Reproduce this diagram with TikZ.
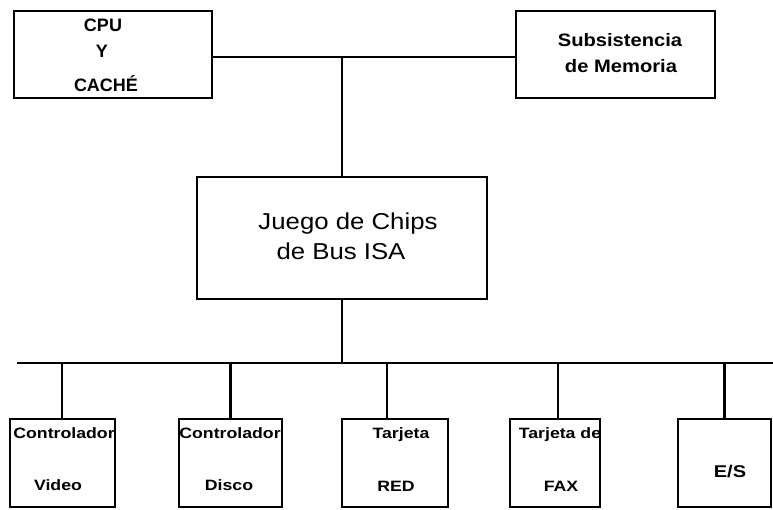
\documentclass[tikz,border=0pt]{standalone}
\usepackage{fontspec}
\setmainfont{Liberation Sans}
\begin{document}
\begin{tikzpicture}[x=1pt,y=-1pt,
  box/.style={draw, line width=2.2pt, inner sep=0pt},
  ln/.style={line width=2.2pt},
  lbl/.style={inner sep=0pt, anchor=base, font=\bfseries\fontsize{18}{20}\selectfont},
  wide/.style={xscale=1.12, transform shape},
  sml/.style={inner sep=0pt, anchor=base, font=\bfseries\fontsize{15}{17}\selectfont, xscale=1.18, transform shape},
  big/.style={inner sep=0pt, anchor=base, font=\fontsize{23}{26}\selectfont, xscale=1.12, transform shape}]
\useasboundingbox (0,0) rectangle (773,510);
% boxes
\node[box, minimum width=198pt, minimum height=87pt] (cpu) at (113,54.5) {};
\node[box, minimum width=199pt, minimum height=87pt] (mem) at (615.5,54.5) {};
\node[box, minimum width=290pt, minimum height=122pt] (chip) at (342,238) {};
\node[box, minimum width=105pt, minimum height=88pt] (video) at (62.5,463) {};
\node[box, minimum width=103pt, minimum height=88pt] (disco) at (230.5,463) {};
\node[box, minimum width=106pt, minimum height=88pt] (red) at (395,463) {};
\node[box, minimum width=90pt, minimum height=88pt] (fax) at (555,463) {};
\node[box, minimum width=93pt, minimum height=88pt] (es) at (724.5,463) {};
% labels
\node[lbl] (t1) at (103,32) {CPU};
\node[lbl] (t2) at (102,58) {Y};
\node[lbl] (t3) at (106,92) {CACHÉ};
\node[lbl, wide] (t4) at (620,47) {Subsistencia};
\node[lbl, wide] (t5) at (621,73) {de Memoria};
\node[big] (t6) at (348,230) {Juego de Chips};
\node[big] (t7) at (341,260) {de Bus ISA};
\node[sml] (t8) at (64,438) {Controlador};
\node[sml] (t9) at (58,490) {Video};
\node[sml] (t10) at (230,438) {Controlador};
\node[sml] (t11) at (229,490) {Disco};
\node[sml] (t12) at (401,438) {Tarjeta};
\node[sml] (t13) at (396,491) {RED};
\node[sml] (t14) at (560,438) {Tarjeta de};
\node[sml] (t15) at (561,491) {FAX};
\node[sml, font=\bfseries\fontsize{17}{19}\selectfont] (t16) at (730,477) {E/S};
% connectors
\coordinate (top) at (342,57);
\coordinate (busL) at (17,363);
\coordinate (busR) at (773,363);
\draw[ln] (cpu.east |- top) -- (mem.west |- top);
\draw[ln] (top) -- (chip.north);
\draw[ln] (chip.south) -- (chip.south |- busL);
\draw[ln] (busL) -- (busR);
\draw[ln] ([xshift=-0.5pt]video.north |- busL) -- ([xshift=-0.5pt]video.north);
\draw[ln] (disco.north |- busL) -- (disco.north);
\draw[ln] ([xshift=-8pt]red.north |- busL) -- ([xshift=-8pt]red.north);
\draw[ln] ([xshift=3pt]fax.north |- busL) -- ([xshift=3pt]fax.north);
\draw[ln] (es.north |- busL) -- (es.north);
\end{tikzpicture}
\end{document}
